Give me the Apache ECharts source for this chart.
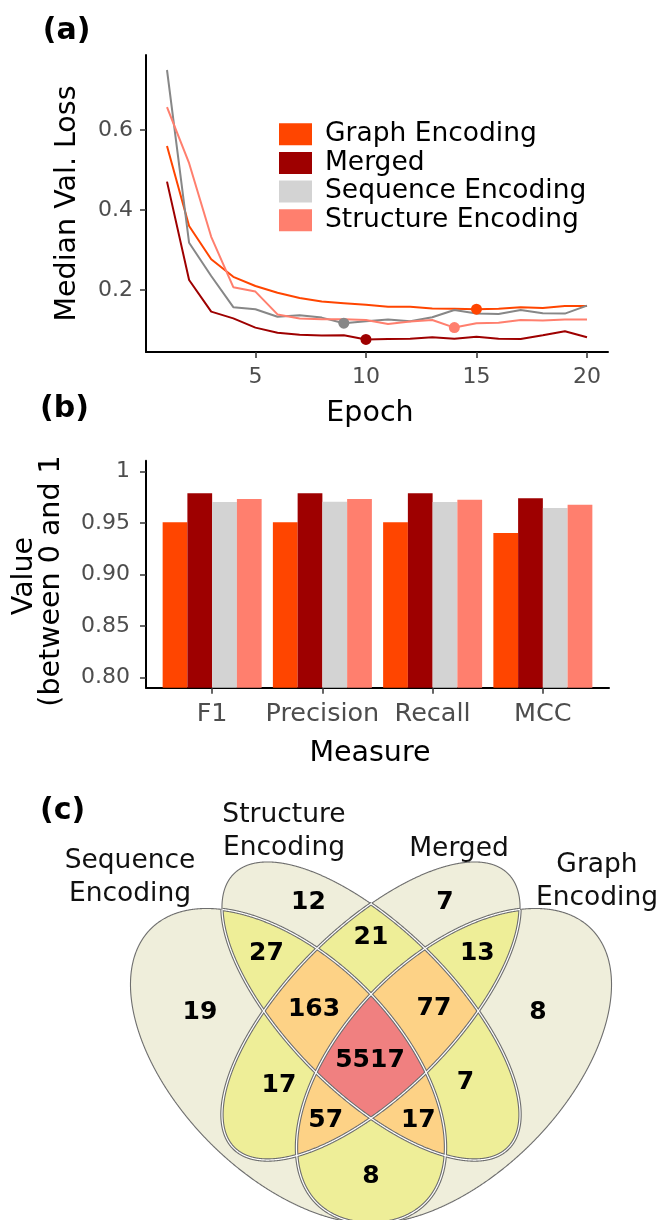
<!DOCTYPE html>
<html>
<head>
<meta charset="utf-8">
<script src="https://cdn.jsdelivr.net/npm/echarts@6/dist/echarts.min.js"></script>
<style>html,body{margin:0;padding:0;background:#fff}#c{width:659px;height:1220px}</style>
</head>
<body>
<div id="c"></div>
<script>
// ---------------- DATA ----------------
// (a) median validation loss per epoch
const epochs = [1,2,3,4,5,6,7,8,9,10,11,12,13,14,15,16,17,18,19,20];
const lossGraph     = [0.560,0.360,0.277,0.233,0.210,0.193,0.180,0.171,0.167,0.163,0.158,0.158,0.154,0.153,0.152,0.153,0.157,0.155,0.160,0.160];
const lossMerged    = [0.471,0.225,0.146,0.129,0.106,0.093,0.088,0.086,0.087,0.0765,0.0775,0.078,0.082,0.078,0.083,0.078,0.0775,0.087,0.097,0.082];
const lossSequence  = [0.750,0.318,0.235,0.157,0.152,0.133,0.137,0.131,0.117,0.122,0.126,0.122,0.132,0.150,0.141,0.140,0.150,0.142,0.141,0.161];
const lossStructure = [0.657,0.517,0.333,0.207,0.196,0.139,0.129,0.127,0.127,0.125,0.115,0.121,0.125,0.106,0.117,0.118,0.125,0.124,0.126,0.126];
const lossTicks  = [0.2, 0.4, 0.6];
const epochTicks = [5, 10, 15, 20];

// (b) metrics
const measures     = ['F1', 'Precision', 'Recall', 'MCC'];
const barGraph     = [0.9508, 0.9508, 0.9508, 0.9404];
const barMerged    = [0.9790, 0.9790, 0.9790, 0.9741];
const barSequence  = [0.9705, 0.9708, 0.9705, 0.9647];
const barStructure = [0.9734, 0.9734, 0.9728, 0.9679];
const valueTicks   = [0.80, 0.85, 0.90, 0.95, 1];

const seriesNames = ['Graph Encoding', 'Merged', 'Sequence Encoding', 'Structure Encoding'];

// (c) Venn: sets and region counts (key = membership Seq/Struct/Merged/Graph)
const vennSets   = ['Sequence Encoding', 'Structure Encoding', 'Merged', 'Graph Encoding'];
const vennKeys   = ['1000','0100','0010','0001','1100','0110','0011','1010','0101','1001','1110','0111','1011','1101','1111'];
const vennCounts = [19, 12, 7, 8, 27, 21, 13, 17, 7, 8, 163, 77, 57, 17, 5517];

// ---------------- LAYOUT / STYLE ----------------
const FONT = 'DejaVu Sans';
const fillColor = {'Graph Encoding':'#FF4500','Merged':'#9E0000','Sequence Encoding':'#D3D3D3','Structure Encoding':'#FF7F6E'};
const lineColor = {'Graph Encoding':'#FF4500','Merged':'#9E0000','Sequence Encoding':'#878787','Structure Encoding':'#FF7F6E'};
const lossSeries = [lossGraph, lossMerged, lossSequence, lossStructure];
const barSeries  = [barGraph, barMerged, barSequence, barStructure];

// Venn geometry in diagram units (y downward), mapped by hidden axes
const vennEllipses = [
  {cx:-83, cy:55, a:194, b:109.5, rot:45},
  {cx:0,   cy:0,  a:194, b:82.4, rot:45},
  {cx:0,   cy:0,  a:194, b:82.4, rot:135},
  {cx:83,  cy:55, a:194, b:109.5, rot:135}
];
const vennDegreeColors = ['#EFEEDB', '#EEEE98', '#FDD286', '#F08080'];
const vennLabelPos = {
  '1000':[-171,1], '0100':[-62.5,-108.5], '0010':[74,-109], '0001':[167,1],
  '1100':[-104.5,-57.7], '0110':[0,-73.7], '0011':[106.3,-57.7],
  '1010':[-92,74], '0101':[94.5,71.5], '1001':[0,165],
  '1110':[-57,-1.5], '0111':[63,-3], '1011':[-45.3,109.7], '1101':[47.3,109.7],
  '1111':[-1,49]
};
const vennSetPos = [[-241,-133],[-87,-179.5],[88,-162],[226,-129.5]];

// ---------------- GEOMETRY HELPERS ----------------
function ellPts(e, n){
  const r = e.rot*Math.PI/180, c = Math.cos(r), s = Math.sin(r), p = [];
  for (let k=0;k<n;k++){
    const t = 2*Math.PI*k/n, u = e.a*Math.cos(t), v = e.b*Math.sin(t);
    p.push([e.cx + u*c - v*s, e.cy + u*s + v*c]);
  }
  return p;
}
function inEll(e, x, y){
  const r = e.rot*Math.PI/180, c = Math.cos(r), s = Math.sin(r);
  const dx = x-e.cx, dy = y-e.cy, u = dx*c+dy*s, v = -dx*s+dy*c;
  return (u*u)/(e.a*e.a) + (v*v)/(e.b*e.b) < 1;
}
function polyArea(p){ let s=0; for(let i=0;i<p.length;i++){const a=p[i],b=p[(i+1)%p.length]; s+=a[0]*b[1]-b[0]*a[1];} return s/2; }
function clipPoly(subj, clip){
  const sg = Math.sign(polyArea(clip));
  let out = subj;
  for (let i=0;i<clip.length && out.length;i++){
    const A = clip[i], B = clip[(i+1)%clip.length], ex = B[0]-A[0], ey = B[1]-A[1];
    const inside = P => sg*(ex*(P[1]-A[1]) - ey*(P[0]-A[0])) >= 0;
    const inter = (P,Q) => { const dx=Q[0]-P[0], dy=Q[1]-P[1]; const t=((A[0]-P[0])*ey-(A[1]-P[1])*ex)/(dx*ey-dy*ex); return [P[0]+t*dx, P[1]+t*dy]; };
    const inp = out; out = [];
    let S = inp[inp.length-1];
    for (const E of inp){
      if (inside(E)) { if (!inside(S)) out.push(inter(S,E)); out.push(E); }
      else if (inside(S)) out.push(inter(S,E));
      S = E;
    }
  }
  return out;
}
const ellPolys = vennEllipses.map(e => ellPts(e, 360));
const fillPolys = [];
for (let m=1;m<16;m++){
  const idx = [0,1,2,3].filter(i => m & (1<<i));
  let poly = ellPolys[idx[0]];
  for (let k=1;k<idx.length;k++) poly = clipPoly(poly, ellPolys[idx[k]]);
  fillPolys.push({deg: idx.length, points: poly});
}
fillPolys.sort((a,b) => a.deg-b.deg);

const outlineSegs = [];
vennEllipses.forEach((e, i) => {
  const N = 1440, pts = ellPts(e, N);
  const flag = pts.map(p => vennEllipses.some((o,j) => j!==i && inEll(o, p[0], p[1])));
  let start = flag.findIndex((f,k) => f !== flag[(k-1+N)%N]);
  if (start < 0){ outlineSegs.push({internal:flag[0], pts:pts.concat([pts[0]])}); return; }
  let cur = {internal:flag[start], pts:[pts[start]]};
  for (let k=1;k<=N;k++){
    const id = (start+k)%N;
    cur.pts.push(pts[id]);
    if (k===N) break;
    if (flag[id] !== cur.internal){ outlineSegs.push(cur); cur = {internal:flag[id], pts:[pts[id]]}; }
  }
  outlineSegs.push(cur);
});
const internalSegs = outlineSegs.filter(s => s.internal);

function argMin(arr){ let m=0; arr.forEach((v,i)=>{ if(v<arr[m]) m=i; }); return m; }

// ---------------- OPTION ----------------
const axisLineStyle = {color:'#000', width:2};
const tickStyle = {color:'#333', width:1.5};
const tickLabel = {color:'#4D4D4D', fontSize:22, fontFamily:FONT};

const series = [];
seriesNames.forEach((name, s) => {
  series.push({
    type:'bar', name, xAxisIndex:1, yAxisIndex:1,
    data: barSeries[s].map((v,i) => [i+1, v]),
    barWidth: 24.75, barGap:'0%', clip:true,
    itemStyle:{color: fillColor[name]}, emphasis:{disabled:true}
  });
});
seriesNames.forEach((name, s) => {
  const vals = lossSeries[s], k = argMin(vals);
  series.push({
    type:'line', name, xAxisIndex:0, yAxisIndex:0,
    data: epochs.map((ep,i) => [ep, vals[i]]),
    showSymbol:false, lineStyle:{color: lineColor[name], width:2},
    itemStyle:{color: lineColor[name]}, emphasis:{disabled:true},
    markPoint:{ symbol:'circle', symbolSize:11, label:{show:false}, itemStyle:{color: lineColor[name]},
      data:[{coord:[epochs[k], vals[k]]}] }
  });
});
// Venn fills
series.push({
  type:'custom', coordinateSystem:'cartesian2d', xAxisIndex:2, yAxisIndex:2, silent:true,
  data: fillPolys.map((p,i) => [0,0,i]),
  renderItem: (params, api) => {
    const p = fillPolys[params.dataIndex];
    return {type:'polygon', shape:{points: p.points.map(q => api.coord(q))}, style:{fill: vennDegreeColors[p.deg-1]}};
  }
});
// Venn outlines (gray)
series.push({
  type:'custom', coordinateSystem:'cartesian2d', xAxisIndex:2, yAxisIndex:2, silent:true,
  data: outlineSegs.map((s,i) => [0,0,i]),
  renderItem: (params, api) => {
    const s = outlineSegs[params.dataIndex];
    return {type:'polyline', shape:{points: s.pts.map(q => api.coord(q))},
      style:{fill:'none', stroke:'#6E6E6E', lineWidth: s.internal ? 3.4 : 1.1}};
  }
});
// Venn outlines (white inner line on shared borders)
series.push({
  type:'custom', coordinateSystem:'cartesian2d', xAxisIndex:2, yAxisIndex:2, silent:true,
  data: internalSegs.map((s,i) => [0,0,i]),
  renderItem: (params, api) => {
    const s = internalSegs[params.dataIndex];
    return {type:'polyline', shape:{points: s.pts.map(q => api.coord(q))},
      style:{fill:'none', stroke:'#FFFFFF', lineWidth:1.2}};
  }
});
// Venn counts
series.push({
  type:'custom', coordinateSystem:'cartesian2d', xAxisIndex:2, yAxisIndex:2, silent:true,
  data: vennKeys.map((k,i) => [0,0,i]),
  renderItem: (params, api) => {
    const key = vennKeys[params.dataIndex];
    const pt = api.coord(vennLabelPos[key]);
    return {type:'text', x:pt[0], y:pt[1], style:{text:String(vennCounts[params.dataIndex]), fill:'#000',
      font:'bold 25px "DejaVu Sans"', textAlign:'center', textVerticalAlign:'middle'}};
  }
});
// Venn set names
series.push({
  type:'custom', coordinateSystem:'cartesian2d', xAxisIndex:2, yAxisIndex:2, silent:true,
  data: vennSets.map((s,i) => [0,0,i]),
  renderItem: (params, api) => {
    const pt = api.coord(vennSetPos[params.dataIndex]);
    return {type:'text', x:pt[0], y:pt[1], style:{text: vennSets[params.dataIndex].replace(' ', '\n'), fill:'#111',
      font:'26.5px "DejaVu Sans"', lineHeight:33, textAlign:'center', textVerticalAlign:'middle'}};
  }
});

const option = {
  animation:false,
  backgroundColor:'#fff',
  textStyle:{fontFamily:FONT},
  grid:[
    {left:146, top:55, width:462, height:297},
    {left:146, top:460.7, width:463, height:227},
    {left:0, top:780, width:659, height:440}
  ],
  legend:{
    orient:'vertical', left:279, top:120.7, padding:0, itemWidth:33, itemHeight:22, itemGap:1.7,
    icon:'rect', selectedMode:false, data: seriesNames,
    itemStyle:{borderWidth:0},
    textStyle:{fontFamily:FONT, fontSize:26.5, color:'#000', lineHeight:22, padding:[0,0,0,8]}
  },
  xAxis:[
    {gridIndex:0, type:'value', min:0.05, max:20.95,
      axisLine:{show:true, onZero:false, lineStyle:axisLineStyle},
      axisTick:{show:true, length:6, lineStyle:tickStyle, customValues:epochTicks},
      axisLabel:Object.assign({customValues:epochTicks, margin:14}, tickLabel),
      splitLine:{show:false}},
    {gridIndex:1, type:'value', min:0.4, max:4.6,
      axisLine:{show:true, onZero:false, lineStyle:axisLineStyle},
      axisTick:{show:true, length:6, lineStyle:tickStyle, customValues:[1,2,3,4]},
      axisLabel:Object.assign({}, tickLabel, {customValues:[1,2,3,4], margin:14, fontSize:25.5, formatter: v => measures[Math.round(v)-1]}),
      splitLine:{show:false}},
    {gridIndex:2, type:'value', min:-371, max:288, show:false}
  ],
  yAxis:[
    {gridIndex:0, type:'value', min:0.045, max:0.7875,
      axisLine:{show:true, onZero:false, lineStyle:axisLineStyle},
      axisTick:{show:true, length:6, lineStyle:tickStyle, customValues:lossTicks},
      axisLabel:Object.assign({customValues:lossTicks, margin:13, formatter: v => String(+v.toFixed(1))}, tickLabel),
      splitLine:{show:false}},
    {gridIndex:1, type:'value', min:0.7899, max:1.0107,
      axisLine:{show:true, onZero:false, lineStyle:axisLineStyle},
      axisTick:{show:true, length:6, lineStyle:tickStyle, customValues:valueTicks},
      axisLabel:Object.assign({customValues:valueTicks, margin:16, formatter: v => (Math.abs(v-1)<1e-9 ? '1' : v.toFixed(2))}, tickLabel),
      splitLine:{show:false}},
    {gridIndex:2, type:'value', min:-231, max:209, inverse:true, show:false}
  ],
  graphic:[
    {type:'text', x:42.7, y:31, style:{text:'(a)', font:'bold 30px "DejaVu Sans"', fill:'#000', textAlign:'left', textVerticalAlign:'middle'}},
    {type:'text', x:40, y:409, style:{text:'(b)', font:'bold 30px "DejaVu Sans"', fill:'#000', textAlign:'left', textVerticalAlign:'middle'}},
    {type:'text', x:40, y:811, style:{text:'(c)', font:'bold 30px "DejaVu Sans"', fill:'#000', textAlign:'left', textVerticalAlign:'middle'}},
    {type:'text', x:68, y:203.5, rotation:Math.PI/2, style:{text:'Median Val. Loss', font:'28.5px "DejaVu Sans"', fill:'#000', textAlign:'center', textVerticalAlign:'middle'}},
    {type:'text', x:370, y:414, style:{text:'Epoch', font:'28.5px "DejaVu Sans"', fill:'#000', textAlign:'center', textVerticalAlign:'middle'}},
    {type:'text', x:25, y:576, rotation:Math.PI/2, style:{text:'Value', font:'28.5px "DejaVu Sans"', fill:'#000', textAlign:'center', textVerticalAlign:'middle'}},
    {type:'text', x:51.5, y:706.7, rotation:Math.PI/2, style:{text:'(between 0 and 1', font:'28.5px "DejaVu Sans"', fill:'#000', textAlign:'left', textVerticalAlign:'middle'}},
    {type:'text', x:370, y:754, style:{text:'Measure', font:'28.5px "DejaVu Sans"', fill:'#000', textAlign:'center', textVerticalAlign:'middle'}}
  ],
  series
};
const chart = echarts.init(document.getElementById('c'), null, {renderer:'canvas', width:659, height:1220});
chart.setOption(option);
</script>
</body>
</html>
